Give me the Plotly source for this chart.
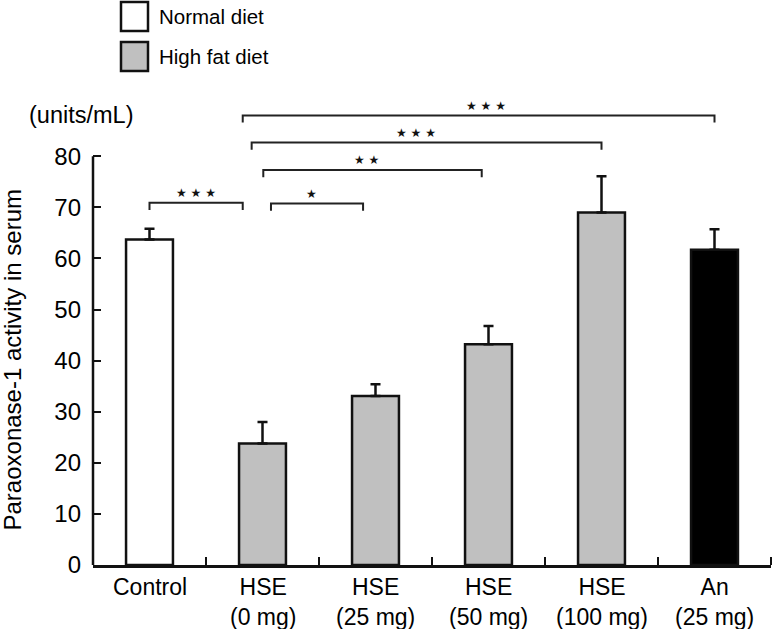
import plotly.graph_objects as go

# ---- data ----
categories = ["Control", "HSE<br>(0 mg)", "HSE<br>(25 mg)", "HSE<br>(50 mg)", "HSE<br>(100 mg)", "An<br>(25 mg)"]
values = [63.7, 23.8, 33.1, 43.2, 69.0, 61.7]
errors = [2.1, 4.2, 2.3, 3.6, 7.1, 4.0]
diet = ["normal", "high", "high", "high", "high", "drug"]
y_ticks = [0, 10, 20, 30, 40, 50, 60, 70, 80]

# significance brackets: (x start, x end, y level, label) in axis units
brackets = [
    (0.0, 0.825, 70.9, "\u2605 \u2605 \u2605"),
    (1.075, 1.89, 70.75, "\u2605"),
    (1.007, 2.94, 77.3, "\u2605 \u2605"),
    (0.904, 4.0, 82.7, "\u2605 \u2605 \u2605"),
    (0.825, 5.0, 88.0, "\u2605 \u2605 \u2605"),
]
star_x = [0.41, 1.43, 1.92, 2.36, 2.98]

color_map = {"normal": "#ffffff", "high": "#c0c0c0", "drug": "#000000"}
FONT = "Liberation Sans, Arial, Helvetica, sans-serif"

W, H = 775, 629
L, R, T, B = 93, 4, 95, 64
pw, ph = W - L - R, H - T - B


def px(X):
    """window x pixel -> paper coordinate"""
    return (X - L) / pw


def py(Y):
    """window y pixel -> paper coordinate"""
    return (H - B - Y) / ph


fig = go.Figure()
fig.add_trace(go.Bar(
    x=list(range(len(categories))), y=values,
    width=0.415,
    marker=dict(color=[color_map[d] for d in diet], line=dict(color="#111111", width=2.5)),
    error_y=dict(type="data", array=errors, arrayminus=[0] * len(errors), symmetric=False,
                 color="#111111", thickness=2.5, width=5),
    showlegend=False,
))

tick = 1.4
for (x0, x1, yl, lab), sx in zip(brackets, star_x):
    fig.add_trace(go.Scatter(
        x=[x0, x0, x1, x1], y=[yl - tick, yl, yl, yl - tick],
        mode="lines", line=dict(color="#222222", width=2),
        showlegend=False, hoverinfo="skip",
    ))
    fig.add_annotation(x=sx, y=yl + 1.9, xref="x", yref="y", text=lab, showarrow=False,
                       font=dict(size=12, color="#111111", family="DejaVu Sans"),
                       xanchor="center", yanchor="middle")

# y axis line only over 0..80
fig.add_shape(type="line", xref="paper", yref="y", x0=0, x1=0, y0=y_ticks[0], y1=y_ticks[-1],
              line=dict(color="#111111", width=2.5))

# category labels under the axis
for i, lab in enumerate(categories):
    fig.add_annotation(x=i, xref="x", yref="paper", y=py(572), text=lab, showarrow=False,
                       xanchor="center", yanchor="top", align="center",
                       font=dict(size=23, color="#000000", family=FONT))

# legend (drawn manually)
legend_items = [("Normal diet", "#ffffff", 2, 31), ("High fat diet", "#c0c0c0", 42, 71)]
for name, col, ytop, ybot in legend_items:
    fig.add_shape(type="rect", xref="paper", yref="paper",
                  x0=px(121), x1=px(148), y0=py(ybot), y1=py(ytop),
                  fillcolor=col, line=dict(color="#111111", width=2.5))
    fig.add_annotation(xref="paper", yref="paper", x=px(157), y=py((ytop + ybot) / 2),
                       text=name, showarrow=False, xanchor="left", yanchor="middle",
                       font=dict(size=20.5, color="#000000", family=FONT))

fig.add_annotation(xref="paper", yref="paper", x=px(27), y=py(115),
                   text="(units/mL)", showarrow=False, xanchor="left", yanchor="middle",
                   font=dict(size=23.5, color="#000000", family=FONT))
fig.add_annotation(xref="paper", yref="paper", x=px(12), y=py(360.5),
                   text="Paraoxonase-1 activity in serum", showarrow=False, textangle=-90,
                   xanchor="center", yanchor="middle",
                   font=dict(size=24, color="#000000", family=FONT))

fig.update_layout(
    width=W, height=H,
    margin=dict(l=L, r=R, t=T, b=B, autoexpand=False),
    paper_bgcolor="white", plot_bgcolor="white",
    font=dict(family=FONT, color="#000000"),
)
fig.update_xaxes(
    range=[-0.5, 5.5], tickmode="array", tickvals=list(range(len(categories))),
    showticklabels=False,
    showline=True, linecolor="#111111", linewidth=2.5,
    ticks="", showgrid=False, zeroline=False,
    minor=dict(tickmode="array", tickvals=[i + 0.5 for i in range(len(categories))],
               ticks="inside", ticklen=8, tickwidth=2, tickcolor="#111111", showgrid=False),
)
fig.update_yaxes(
    range=[0, 92], tickmode="array", tickvals=y_ticks,
    showline=False,
    ticks="inside", ticklen=8, tickwidth=2, tickcolor="#111111",
    showgrid=False, zeroline=False,
    tickfont=dict(size=24, color="#000000", family=FONT),
    ticklabelstandoff=11,
)

fig.write_html(
    "out.html",
    config={"displayModeBar": False},
    post_script="document.body.style.margin='0';document.body.style.overflow='hidden';",
)
